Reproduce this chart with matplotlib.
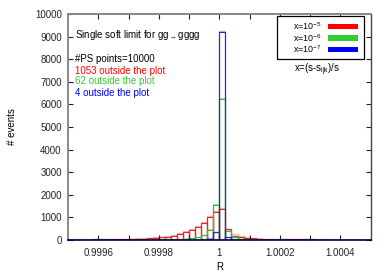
import numpy as np
import matplotlib
matplotlib.use("Agg")
import matplotlib.pyplot as plt
from matplotlib.patches import Rectangle

plt.rcParams['font.family'] = ['Liberation Sans', 'DejaVu Sans']
plt.rcParams['mathtext.fontset'] = 'custom'
plt.rcParams['mathtext.rm'] = 'Liberation Sans'
plt.rcParams['mathtext.it'] = 'Liberation Sans'

# ---- data ----
bin_lo = 0.9995
bin_width = 0.00002
n_bins = 50

red_solid = [15, 18, 20, 22, 25, 28, 30, 33, 38, 42, 48, 55, 65,
             75, 100, 118, 146, 190, 280, 370, 440, 560, 740, 1000, 1230,
             1360, 480, 175, 140, 100, 75, 60, 50, 45, 40, 35, 35, 30, 30,
             25, 25, 20, 20, 20, 15, 15, 15, 12, 10, 10]
red_pale = [25, 28, 30, 32, 35, 38, 42, 46, 50, 55, 62, 70, 80,
            90, 120, 140, 170, 220, 310, 410, 480, 620, 790, 1050, 1290,
            1400, 500, 250, 175, 120, 90, 70, 60, 52, 45, 42, 40, 36, 34,
            30, 30, 26, 25, 24, 20, 20, 18, 16, 14, 12]
green_solid = [0, 0, 0, 5, 5, 5, 5, 8, 8, 10, 10, 12, 15, 15, 20,
               25, 30, 40, 50, 60, 80, 120, 206, 442, 1530,
               6250, 410, 146, 60, 30, 20, 15, 12, 10, 10, 8, 8, 6, 6, 5,
               5, 5, 4, 4, 3, 3, 3, 2, 2, 2]
green_pale = [0, 0, 0, 6, 6, 6, 8, 10, 10, 12, 12, 15, 18, 20, 25,
              30, 38, 48, 60, 75, 100, 140, 230, 480, 1575,
              6300, 440, 170, 80, 40, 25, 20, 15, 12, 12, 10, 10, 8, 8, 6,
              6, 6, 5, 5, 4, 4, 4, 3, 3, 3]
blue_solid = [0] * 20 + [2, 5, 15, 40, 350, 9200, 118, 15, 5, 2] + [0] * 20
blue_pale = [0] * 20 + [4, 8, 25, 70, 370, 9250, 130, 25, 8, 4] + [0] * 20

x_ticks = [0.9996, 0.9997, 0.9998, 0.9999, 1.0, 1.0001, 1.0002, 1.0003, 1.0004]
x_ticklabels = ["0.9996", "", "0.9998", "", "1", "", "1.0002", "", "1.0004"]
y_ticks = [0, 1000, 2000, 3000, 4000, 5000, 6000, 7000, 8000, 9000, 10000]

series = [
    ("x=10$^{-5}$", red_solid, red_pale, "#ee2222", "#ff0000"),
    ("x=10$^{-6}$", green_solid, green_pale, "#33bb33", "#33cc33"),
    ("x=10$^{-7}$", blue_solid, blue_pale, "#2222ee", "#0000ff"),
]

edges = bin_lo + bin_width * np.arange(n_bins + 1)
centers = 0.5 * (edges[:-1] + edges[1:])

W, H = 389, 273
fig = plt.figure(figsize=(W / 100, H / 100), dpi=100)
ax_l, ax_r, ax_t, ax_b = 68, 370.7, 14, 240
ax = fig.add_axes([ax_l / W, 1 - ax_b / H, (ax_r - ax_l) / W, (ax_b - ax_t) / H])

for label, solid, pale, lc, fc in series:
    ax.bar(centers, pale, width=bin_width, fill=False, edgecolor=lc,
           alpha=0.35, linewidth=1.0)
    ax.bar(centers, solid, width=bin_width, fill=False, edgecolor=lc,
           linewidth=0.8)

ax.set_xlim(0.9995, 1.0005)
ax.set_ylim(0, 10000)
ax.set_xticks(x_ticks)
ax.set_xticklabels(x_ticklabels)
ax.set_yticks(y_ticks)
ax.tick_params(direction='in', top=True, right=True, length=3.5, width=0.8,
               labelsize=7, colors='#222222')
ax.tick_params(axis='x', pad=5.5)
ax.tick_params(axis='y', pad=4.5)

for side in ('left', 'top'):
    ax.spines[side].set_color('#888888')
    ax.spines[side].set_linewidth(1.4)
ax.spines['right'].set_color('#444444')
ax.spines['bottom'].set_color('#000044')
ax.spines['right'].set_linewidth(1.0)
ax.spines['bottom'].set_linewidth(1.2)

fig.text(12 / W, 1 - 127 / H, "# events", rotation=90, fontsize=7,
         ha='center', va='center')
fig.text(220 / W, 1 - 267 / H, "R", fontsize=7, ha='center', va='center')

tx = 75 / W
fig.text(tx, 1 - 35 / H, "Single soft limit for gg$_{\\rightarrow}$gggg",
         fontsize=7, ha='left', va='center')
fig.text(tx, 1 - 59 / H, "#PS points=10000", fontsize=7, ha='left', va='center')
fig.text(tx, 1 - 70.5 / H, "1053 outside the plot", fontsize=7, ha='left',
         va='center', color='#ff0000')
fig.text(tx, 1 - 81.5 / H, "62 outside the plot", fontsize=7, ha='left',
         va='center', color='#33cc33')
fig.text(tx, 1 - 93 / H, "4 outside the plot", fontsize=7, ha='left',
         va='center', color='#0000ff')

# ---- legend (drawn manually, in figure pixels) ----
def fx(px):
    return px / W

def fy(py):
    return 1 - py / H

fig.patches.append(Rectangle((fx(276.7), fy(59.3)), fx(364.3) - fx(276.7),
                             fy(16) - fy(59.3), transform=fig.transFigure,
                             facecolor='white', edgecolor='black',
                             linewidth=0.9, zorder=5))
row_y = [26.5, 38, 49.5]
for (label, _, _, _, fc), ry in zip(series, row_y):
    fig.text(fx(321.7), fy(ry), label, fontsize=6.4, ha='right',
             va='center', zorder=6)
    fig.patches.append(Rectangle((fx(327.7), fy(ry + 2.6)),
                                 fx(358.3) - fx(327.7), 5.2 / H,
                                 transform=fig.transFigure, facecolor=fc,
                                 edgecolor='none', zorder=6))

fig.text(317 / W, 1 - 70 / H, "x=(s-s$_{ijk}$)/s", fontsize=7,
         ha='center', va='center')

fig.savefig("out.png", dpi=100)
